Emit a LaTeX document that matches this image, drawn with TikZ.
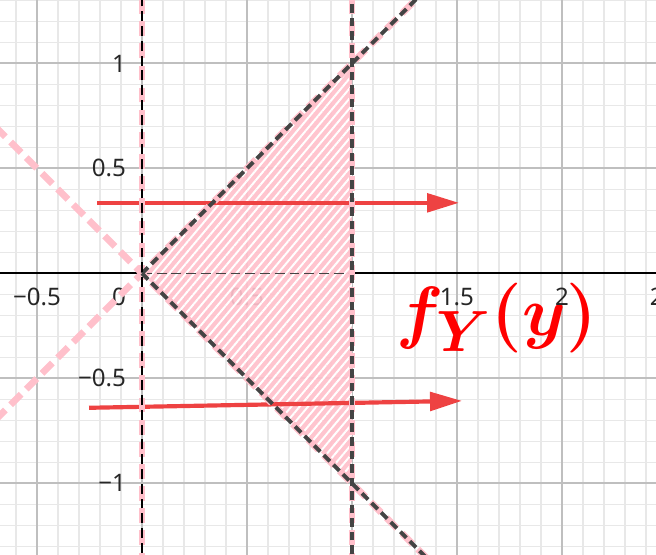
\documentclass[tikz,border=0pt]{standalone}
\usepackage{bm}
\usepackage{fontspec}
\newfontfamily\axisfont{Noto Sans}
\usetikzlibrary{arrows.meta,patterns.meta}
\definecolor{regionpink}{HTML}{FFC0CB}
\definecolor{arrowred}{RGB}{238,66,66}
\definecolor{bounddark}{HTML}{444444}
\begin{document}
\begin{tikzpicture}[x=3cm,y=3cm,
  minorgrid/.style={black!9,line width=0.6pt},
  majorgrid/.style={black!25,line width=0.8pt},
  ticklabel/.style={font=\axisfont\fontsize{9.8}{11}\selectfont,text=black!85,inner sep=0pt},
  pinkline/.style={regionpink,line width=2.7pt,dash pattern=on 6pt off 3pt},
  darkline/.style={bounddark,line width=1.6pt,dash pattern=on 3.5pt off 2pt},
  flow/.style={arrowred,line width=1.7pt,-{Triangle[length=13pt,width=7.5pt]}}]
\useasboundingbox (-0.676,-1.340) rectangle (2.448,1.302);
\foreach \i in {-7,...,25} \draw[minorgrid] (\i/10,-1.4)--(\i/10,1.4);
\foreach \j in {-14,...,14} \draw[minorgrid] (-0.7,\j/10)--(2.5,\j/10);
\foreach \i in {-1,0,...,5} \draw[majorgrid] (\i/2,-1.4)--(\i/2,1.4);
\foreach \j in {-2,-1,...,2} \draw[majorgrid] (-0.7,\j/2)--(2.5,\j/2);
\node[text=red,font=\Huge,scale=1.14] (fy) at (1.69,-0.215) {$\bm{f_Y(y)}$};
\foreach \v/\t [count=\k] in {1/1,0.5/0.5,-0.5/−0.5,-1/−1}
  \node[ticklabel,anchor=east] (ty\k) at (-0.074,\v) {\t};
\node[ticklabel,anchor=east] (tx0) at (-0.074,-0.112) {0};
\foreach \v/\t [count=\k] in {-0.5/−0.5,0.5/0.5,1/1,1.5/1.5,2/2,2.5/2.5}
  \node[ticklabel] (tx\k) at (\v,-0.112) {\t};
\draw[line width=0.8pt] (-0.7,0)--(0,0);
\draw[line width=0.8pt] (1,0)--(2.5,0);
\fill[regionpink,fill opacity=0.92] (0,0)--(1,1)--(1,-1)--cycle;
\fill[pattern={Lines[angle=50,distance=2.6pt,line width=0.8pt]},pattern color=white,fill opacity=0.5] (0,0)--(1,1)--(1,-1)--cycle;
\draw[bounddark,line width=0.7pt,dash pattern=on 4pt off 2pt] (0,0)--(1,0);
\coordinate (up0) at (-0.214,0.336);
\coordinate (up1) at (1.510,0.336);
\coordinate (lo0) at (-0.252,-0.640);
\coordinate (lo1) at (1.524,-0.607);
\draw[flow] (up0)--(up1);
\draw[flow] (lo0)--(lo1);
\draw[pinkline] (-0.7,-0.7)--(1.4,1.4);
\draw[pinkline] (-0.7,0.7)--(1.4,-1.4);
\draw[pinkline] (0,-1.4)--(0,1.4);
\draw[pinkline] (1,-1.4)--(1,1.4);
\draw[darkline] (0,0)--(1.4,1.4);
\draw[darkline] (0,0)--(1.4,-1.4);
\draw[darkline] (1,-1.4)--(1,1.4);
\draw[black,line width=0.8pt,dash pattern=on 4pt off 2pt] (0,-1.4)--(0,1.4);
\end{tikzpicture}
\end{document}
